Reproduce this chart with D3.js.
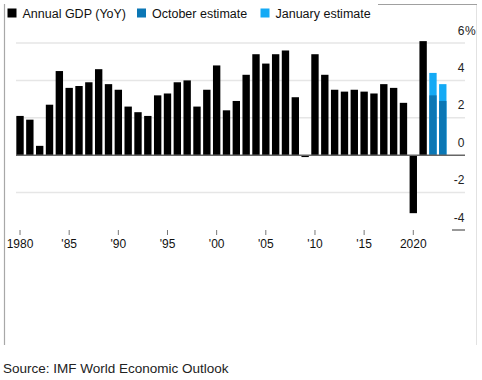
<!DOCTYPE html>
<html>
<head>
<meta charset="utf-8">
<script src="https://cdn.jsdelivr.net/npm/d3@7"></script>
<style>
  body { margin: 0; background: #fff; }
  text { font-family: "Liberation Sans", Arial, Helvetica, sans-serif; }
</style>
</head>
<body>
<div id="chart"></div>
<script>
// Annual world GDP growth (%)
const years = d3.range(1980, 2022);
const gdp = [2.1, 1.9, 0.5, 2.7, 4.5, 3.6, 3.7, 3.9, 4.6, 3.8,
             3.5, 2.6, 2.3, 2.1, 3.2, 3.3, 3.9, 4.0, 2.6, 3.5,
             4.8, 2.4, 2.9, 4.3, 5.4, 4.9, 5.4, 5.6, 3.1, -0.1,
             5.4, 4.3, 3.5, 3.4, 3.5, 3.4, 3.3, 3.8, 3.6, 2.8,
             -3.1, 6.1];

// estimate years
const estimateYears = [2022, 2023];
const octoberEstimate = [3.2, 2.9];
const januaryEstimate = [4.4, 3.8];

const yTicks = [6, 4, 2, 0, -2, -4];
const xTickYears = [1980, 1985, 1990, 1995, 2000, 2005, 2010, 2015, 2020];
const xTickLabels = ["1980", "'85", "'90", "'95", "'00", "'05", "'10", "'15", "2020"];

const legendItems = [
  { label: "Annual GDP (YoY)", color: "#000000" },
  { label: "October estimate", color: "#0b77b5" },
  { label: "January estimate", color: "#14aaf5" }
];

const W = 482, H = 380;

const svg = d3.select("#chart")
  .append("svg")
  .attr("width", W)
  .attr("height", H);

// scales
const allYears = years.concat(estimateYears);
const x = d3.scaleBand()
  .domain(allYears)
  .range([15.1, 447.7])
  .paddingInner(0.25)
  .paddingOuter(0.125);

const y = d3.scaleLinear()
  .domain([-4, 6])
  .range([230, 43]);

// frame
svg.append("line")
  .attr("x1", 4.5).attr("x2", 4.5)
  .attr("y1", 4).attr("y2", 345)
  .attr("stroke", "#a8a8a8").attr("stroke-width", 1.2);
svg.append("line")
  .attr("x1", 476.5).attr("x2", 476.5)
  .attr("y1", 4).attr("y2", 345)
  .attr("stroke", "#e2e2e2").attr("stroke-width", 1);
svg.append("line")
  .attr("x1", 378).attr("x2", 477)
  .attr("y1", 4.5).attr("y2", 4.5)
  .attr("stroke", "#a0a0a0").attr("stroke-width", 1.2);

// gridlines
svg.append("g")
  .selectAll("line")
  .data(yTicks.filter(d => d !== 0 && d !== -4))
  .enter()
  .append("line")
  .attr("x1", 16).attr("x2", 465)
  .attr("y1", d => y(d)).attr("y2", d => y(d))
  .attr("stroke", "#e6e6e6").attr("stroke-width", 1.5);

// short dash at the lowest tick
svg.append("line")
  .attr("x1", 452).attr("x2", 465)
  .attr("y1", y(-4)).attr("y2", y(-4))
  .attr("stroke", "#333").attr("stroke-width", 1);

// y labels on the right
svg.append("g")
  .selectAll("text")
  .data(yTicks)
  .enter()
  .append("text")
  .attr("x", 464.5)
  .attr("y", d => y(d) - 8.5)
  .attr("text-anchor", "end")
  .style("font-size", "12px")
  .attr("fill", "#222")
  .text(d => d < 0 ? "-" + Math.abs(d) : d);

svg.append("text")
  .attr("x", 465)
  .attr("y", y(6) - 8.5)
  .style("font-size", "12px")
  .attr("fill", "#222")
  .text("%");

// GDP bars
svg.append("g")
  .selectAll("rect")
  .data(years)
  .enter()
  .append("rect")
  .attr("x", d => x(d))
  .attr("width", x.bandwidth())
  .attr("y", (d, i) => y(Math.max(0, gdp[i])))
  .attr("height", (d, i) => Math.abs(y(gdp[i]) - y(0)))
  .attr("fill", "#000");

// January estimate (behind)
svg.append("g")
  .selectAll("rect")
  .data(estimateYears)
  .enter()
  .append("rect")
  .attr("x", d => x(d))
  .attr("width", x.bandwidth())
  .attr("y", (d, i) => y(januaryEstimate[i]))
  .attr("height", (d, i) => y(0) - y(januaryEstimate[i]))
  .attr("fill", legendItems[2].color);

// October estimate (front)
svg.append("g")
  .selectAll("rect")
  .data(estimateYears)
  .enter()
  .append("rect")
  .attr("x", d => x(d))
  .attr("width", x.bandwidth())
  .attr("y", (d, i) => y(octoberEstimate[i]))
  .attr("height", (d, i) => y(0) - y(octoberEstimate[i]))
  .attr("fill", legendItems[1].color);

// zero line
svg.append("line")
  .attr("x1", 16).attr("x2", 465)
  .attr("y1", y(0)).attr("y2", y(0))
  .attr("stroke", "#666").attr("stroke-width", 1.5);

// x axis ticks + labels
const xt = svg.append("g")
  .selectAll("g")
  .data(xTickYears)
  .enter()
  .append("g")
  .attr("transform", d => `translate(${x(d) + x.bandwidth() / 2},0)`);

xt.append("line")
  .attr("y1", 230).attr("y2", 235)
  .attr("stroke", "#777").attr("stroke-width", 1);

xt.append("text")
  .attr("y", 248)
  .attr("text-anchor", "middle")
  .style("font-size", "12px")
  .attr("fill", "#111")
  .text((d, i) => xTickLabels[i]);

// legend
const legendX = [7.5, 137, 260.5];
const lg = svg.append("g")
  .selectAll("g")
  .data(legendItems)
  .enter()
  .append("g")
  .attr("transform", (d, i) => `translate(${legendX[i]},0)`);

lg.append("rect")
  .attr("x", 0).attr("y", 8.5)
  .attr("width", 9).attr("height", 9)
  .attr("fill", d => d.color);

lg.append("text")
  .attr("x", 15).attr("y", 17.5)
  .style("font-size", "12.5px")
  .attr("fill", "#111")
  .text(d => d.label);

// source
svg.append("text")
  .attr("x", 3)
  .attr("y", 372.5)
  .style("font-size", "13.5px")
  .attr("fill", "#222")
  .text("Source: IMF World Economic Outlook");
</script>
</body>
</html>
